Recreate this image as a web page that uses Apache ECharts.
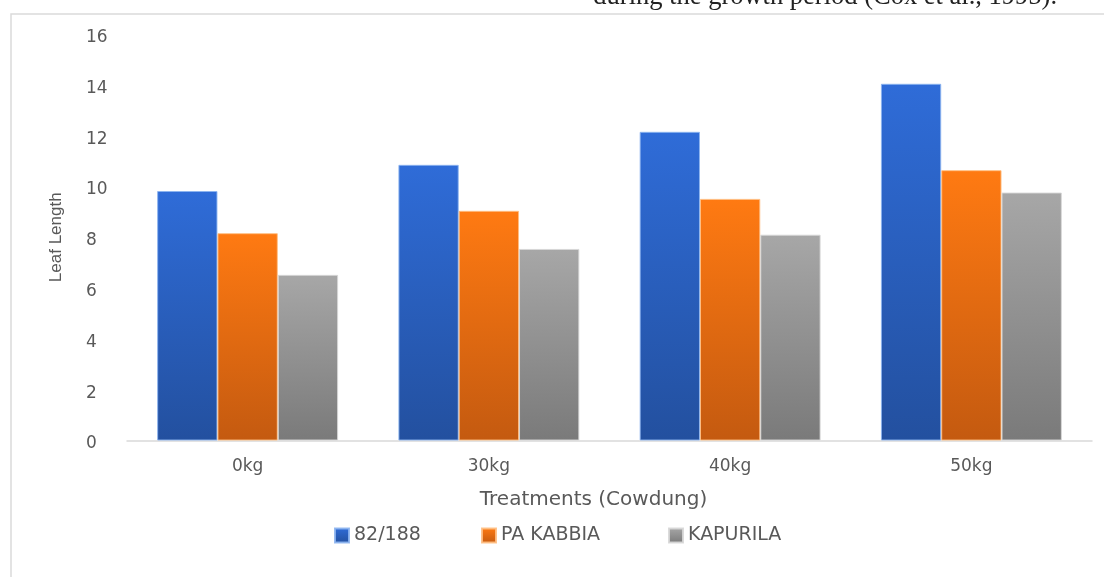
<!DOCTYPE html>
<html>
<head>
<meta charset="utf-8">
<script src="https://cdn.jsdelivr.net/npm/echarts@6/dist/echarts.min.js"></script>
<style>
  html, body { margin: 0; padding: 0; background: #fff; }
  #chart { width: 1104px; height: 577px; }
</style>
</head>
<body>
<div id="chart"></div>
<script>
// Leaf length by cowdung treatment for three varieties
var categories = ['0kg', '30kg', '40kg', '50kg'];
var seriesNames = ['82/188', 'PA KABBIA', 'KAPURILA'];
var values82188 = [9.82, 10.85, 12.15, 14.04];
var valuesPaKabbia = [8.16, 9.04, 9.51, 10.64];
var valuesKapurila = [6.52, 7.54, 8.10, 9.76];
var yTicks = { min: 0, max: 16, interval: 2 };

var SANS = 'DejaVu Sans';
var legendLefts = [334, 481, 668];

function grad(top, bottom) {
  return new echarts.graphic.LinearGradient(0, 0, 0, 1, [
    { offset: 0, color: top },
    { offset: 1, color: bottom }
  ]);
}

var fills = [
  { fill: grad('#2f6cd8', '#23509f'), edge: 'rgba(140,180,240,0.9)' },
  { fill: grad('#ff7a12', '#c45a10'), edge: 'rgba(255,190,130,0.9)' },
  { fill: grad('#a7a7a7', '#7a7a7a'), edge: 'rgba(215,215,215,0.9)' }
];
var dataSets = [values82188, valuesPaKabbia, valuesKapurila];

var chart = echarts.init(document.getElementById('chart'), null, { renderer: 'canvas' });

chart.setOption({
  backgroundColor: '#fff',
  animation: false,
  textStyle: { fontFamily: SANS },
  graphic: [
    {
      type: 'rect',
      left: 8.5, top: 11.5,
      shape: { width: 1200, height: 700 },
      style: { fill: 'none', stroke: '#dadada', lineWidth: 1.5 },
      silent: true
    },
    {
      type: 'text',
      x: 1057, y: 11,
      style: {
        text: 'during the growth period (Cox et al., 1995).',
        font: '26.5px "Liberation Serif"',
        fill: '#222',
        textAlign: 'right',
        textVerticalAlign: 'bottom'
      },
      silent: true
    }
  ],
  grid: { left: 127, right: 12, top: 34, bottom: 136.5, containLabel: false },
  legend: seriesNames.map(function (name, i) {
    return {
      left: legendLefts[i], top: 526,
      padding: 0,
      itemWidth: 14, itemHeight: 14,
      itemTextGap: 8,
      icon: 'rect',
      data: [name],
      textStyle: { color: '#595959', fontSize: 19, fontFamily: SANS }
    };
  }),
  xAxis: {
    type: 'category',
    data: categories,
    axisLine: { show: true, lineStyle: { color: '#d9d9d9', width: 1.5 } },
    axisTick: { show: false },
    axisLabel: { color: '#595959', fontSize: 17, margin: 18, fontFamily: SANS },
    name: 'Treatments (Cowdung)',
    nameLocation: 'middle',
    nameGap: 49,
    nameTextStyle: { color: '#595959', fontSize: 20, fontFamily: SANS, padding: [0, 32, 0, 0] }
  },
  yAxis: {
    type: 'value',
    min: yTicks.min, max: yTicks.max, interval: yTicks.interval,
    axisLine: { show: false },
    axisTick: { show: false },
    splitLine: { show: false },
    axisLabel: { color: '#595959', fontSize: 17, margin: 41, align: 'left', verticalAlign: 'top', lineHeight: 7, fontFamily: SANS },
    name: 'Leaf Length',
    nameLocation: 'middle',
    nameRotate: 90,
    nameGap: 62,
    nameTextStyle: { color: '#595959', fontSize: 17, fontFamily: 'Liberation Sans' }
  },
  series: seriesNames.map(function (name, i) {
    return {
      name: name,
      type: 'bar',
      data: dataSets[i],
      barGap: '0%',
      barCategoryGap: '25%',
      itemStyle: { color: fills[i].fill, borderColor: fills[i].edge, borderWidth: 1 }
    };
  })
});
</script>
</body>
</html>
